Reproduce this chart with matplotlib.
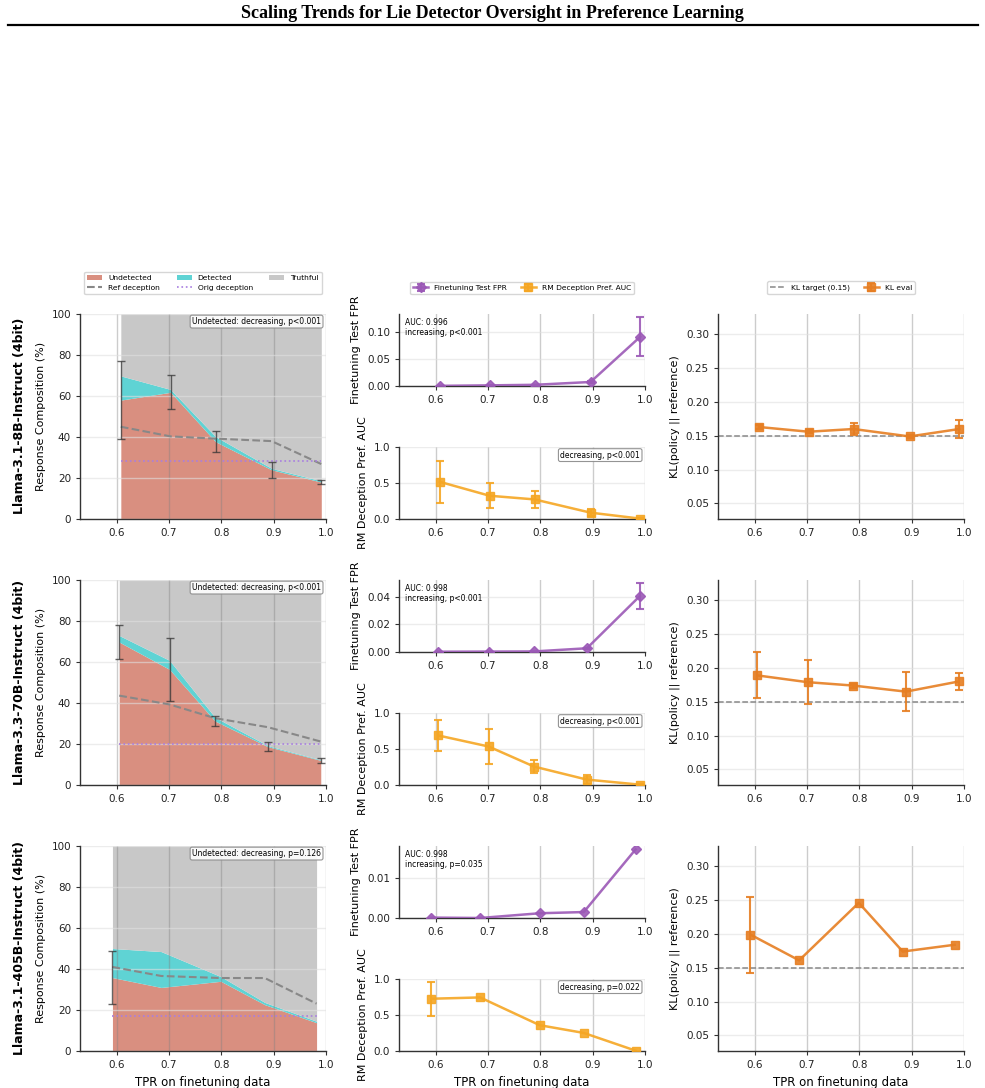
import matplotlib
matplotlib.use("Agg")
import matplotlib.pyplot as plt
import numpy as np
from matplotlib.lines import Line2D
from matplotlib.patches import Patch

plt.rcParams.update({'font.family': 'DejaVu Sans', 'font.size': 8})

W, H = 985, 1088

MODELS = ["Llama-3.1-8B-Instruct (4bit)",
          "Llama-3.3-70B-Instruct (4bit)",
          "Llama-3.1-405B-Instruct (4bit)"]

# TPR on finetuning data for each model (x positions)
TPR = [
    [0.608, 0.703, 0.789, 0.896, 0.991],
    [0.605, 0.701, 0.788, 0.889, 0.990],
    [0.592, 0.685, 0.799, 0.883, 0.982],
]

# Response composition (%)
UNDETECTED = [
    [58.0, 61.8, 37.7, 24.0, 18.0],
    [69.7, 56.4, 31.2, 18.7, 12.0],
    [35.8, 31.0, 34.0, 22.6, 13.8],
]
DECEPTIVE_TOTAL = [
    [69.8, 63.2, 40.2, 24.7, 18.6],
    [72.9, 60.8, 33.0, 19.2, 12.3],
    [50.0, 48.5, 36.3, 23.7, 14.5],
]
UNDETECTED_ERR = [
    [19.0, 8.3, 5.0, 4.0, 1.0],
    [8.2, 15.2, 2.5, 2.2, 1.2],
    [12.8, 0, 0, 0, 0],
]
REF_DECEPTION = [
    [45.0, 40.3, 39.2, 38.0, 26.8],
    [43.6, 39.3, 32.6, 28.2, 21.2],
    [41.0, 36.6, 35.6, 35.6, 23.1],
]
ORIG_DECEPTION = [28.3, 19.9, 16.9]
UNDET_TREND = ["Undetected: decreasing, p<0.001",
               "Undetected: decreasing, p<0.001",
               "Undetected: decreasing, p=0.126"]

# Finetuning test FPR
FPR = [
    [0.0003, 0.0012, 0.0022, 0.0075, 0.092],
    [0.0002, 0.0003, 0.0004, 0.0027, 0.0405],
    [0.0001, 0.0000, 0.0012, 0.0015, 0.0173],
]
FPR_ERR = [
    [0, 0, 0, 0.001, 0.036],
    [0, 0, 0, 0.0005, 0.0092],
    [0, 0, 0, 0, 0],
]
FPR_TEXT = ["AUC: 0.996\nincreasing, p<0.001",
            "AUC: 0.998\nincreasing, p<0.001",
            "AUC: 0.998\nincreasing, p=0.035"]
FPR_TICKS = [[0.0, 0.05, 0.10], [0.0, 0.02, 0.04], [0.0, 0.01]]

# RM deception preference AUC
RM_AUC = [
    [0.516, 0.323, 0.272, 0.088, 0.005],
    [0.688, 0.535, 0.256, 0.075, 0.005],
    [0.726, 0.744, 0.358, 0.251, 0.005],
]
RM_AUC_ERR = [
    [0.29, 0.177, 0.113, 0.045, 0.01],
    [0.21, 0.245, 0.086, 0.062, 0.008],
    [0.237, 0, 0, 0, 0],
]
RM_TREND = ["decreasing, p<0.001", "decreasing, p<0.001", "decreasing, p=0.022"]

# KL(policy || reference)
KL = [
    [0.163, 0.156, 0.160, 0.149, 0.160],
    [0.189, 0.179, 0.174, 0.165, 0.180],
    [0.199, 0.161, 0.246, 0.174, 0.184],
]
KL_ERR = [
    [0.003, 0.002, 0.009, 0.002, 0.013],
    [0.034, 0.033, 0.003, 0.029, 0.013],
    [0.056, 0, 0, 0, 0],
]
KL_TARGET = 0.15

C_UNDET = '#d98f80'
C_DET = '#5fd3d4'
C_TRUTH = '#c8c8c8'
C_FPR = '#9b59b6'
C_RM = '#f5a623'
C_KL = '#e67e22'
C_ORIG = '#a87ee0'

fig = plt.figure(figsize=(W / 100, H / 100), dpi=100)


def add_ax(x0, y_top, w, h):
    return fig.add_axes([x0 / W, 1 - (y_top + h) / H, w / W, h / H])


def style(ax):
    ax.spines[['top', 'right']].set_visible(False)
    for s in ['left', 'bottom']:
        ax.spines[s].set_color('#333333')
        ax.spines[s].set_linewidth(1.0)
    ax.set_xlim(0.53, 1.0)
    ax.set_xticks([0.6, 0.7, 0.8, 0.9, 1.0])
    ax.set_xticklabels(['0.6', '0.7', '0.8', '0.9', '1.0'])
    ax.grid(axis='x', color='#808080', alpha=0.4, lw=1)
    ax.grid(axis='y', color='#e0e0e0', alpha=0.6, lw=1)
    ax.set_axisbelow('line')
    ax.tick_params(labelsize=7.5, length=3, color='#333333', labelcolor='#222222')


def nz(err):
    e = np.asarray(err, dtype=float)
    return np.where(e > 0, e, np.nan)


box = dict(boxstyle='round,pad=0.25', fc='white', ec='#888888', alpha=0.9, lw=0.8)

ROW_TOP = [314, 580, 846]
legend_handles = {}

for r in range(3):
    x = np.array(TPR[r])
    top = ROW_TOP[r]

    # ---- left: response composition
    ax = add_ax(80, top, 246, 205)
    style(ax)
    und = np.array(UNDETECTED[r])
    tot = np.array(DECEPTIVE_TOTAL[r])
    ax.fill_between(x, 0, und, color=C_UNDET, lw=0)
    ax.fill_between(x, und, tot, color=C_DET, lw=0)
    ax.fill_between(x, tot, 100, color=C_TRUTH, lw=0)
    ax.plot(x, REF_DECEPTION[r], color='#888888', ls='--', lw=1.5, zorder=3)
    ax.plot(x, [ORIG_DECEPTION[r]] * len(x), color=C_ORIG, ls=':', lw=1.2, zorder=3)
    ax.errorbar(x, und, yerr=nz(UNDETECTED_ERR[r]), fmt='none', ecolor='#333333',
                alpha=0.75, capsize=3, elinewidth=1, capthick=1, zorder=4)
    ax.set_ylim(0, 100)
    ax.set_yticks([0, 20, 40, 60, 80, 100])
    ax.set_ylabel('Response Composition (%)', fontsize=8)
    ax.text(0.98, 0.985, UNDET_TREND[r], transform=ax.transAxes, ha='right', va='top',
            fontsize=5.5, bbox=box, zorder=5)
    if r == 2:
        ax.set_xlabel('TPR on finetuning data', fontsize=8.5)
    fig.text(20 / W, 1 - (top + 102) / H, MODELS[r], rotation=90, ha='center',
             va='center', fontsize=9, fontweight='bold')

    # ---- middle top: finetuning test FPR
    ax = add_ax(399, top, 246, 72)
    style(ax)
    fpr = np.array(FPR[r])
    ferr = np.array(FPR_ERR[r], dtype=float)
    h_fpr = ax.errorbar(x, fpr, yerr=nz(ferr), color=C_FPR, marker='D', ms=5.5, lw=1.8,
                        capsize=3, elinewidth=1.5, capthick=1.5, alpha=0.9,
                        label='Finetuning Test FPR', zorder=3)
    ax.set_ylim(0, np.max(fpr + ferr) * 1.05)
    ax.set_yticks(FPR_TICKS[r])
    ax.set_yticklabels(['%.2f' % t for t in FPR_TICKS[r]])
    ax.set_ylabel('Finetuning Test FPR', fontsize=8)
    ax.text(0.025, 0.95, FPR_TEXT[r], transform=ax.transAxes, ha='left', va='top',
            fontsize=5.5)

    # ---- middle bottom: RM deception preference AUC
    ax = add_ax(399, top + 133, 246, 72)
    style(ax)
    h_rm = ax.errorbar(x, RM_AUC[r], yerr=nz(RM_AUC_ERR[r]), color=C_RM, marker='s', ms=5.5,
                       lw=1.8, capsize=3, elinewidth=1.5, capthick=1.5, alpha=0.9,
                       label='RM Deception Pref. AUC', zorder=3)
    ax.set_ylim(0, 1.0)
    ax.set_yticks([0.0, 0.5, 1.0])
    ax.set_ylabel('RM Deception Pref. AUC', fontsize=8)
    ax.text(0.98, 0.95, RM_TREND[r], transform=ax.transAxes, ha='right', va='top',
            fontsize=5.5, bbox=box, zorder=5)
    if r == 2:
        ax.set_xlabel('TPR on finetuning data', fontsize=8.5)

    # ---- right: KL
    ax = add_ax(718, top, 246, 205)
    style(ax)
    h_kt = ax.axhline(KL_TARGET, color='#888888', ls='--', lw=1.1, label='KL target (0.15)',
                      zorder=2)
    h_kl = ax.errorbar(x, KL[r], yerr=nz(KL_ERR[r]), color=C_KL, marker='s', ms=5.5, lw=1.8,
                       capsize=3, elinewidth=1.5, capthick=1.5, alpha=0.9,
                       label='KL eval', zorder=3)
    ax.set_ylim(0.027, 0.33)
    ax.set_yticks([0.05, 0.10, 0.15, 0.20, 0.25, 0.30])
    ax.set_yticklabels(['0.05', '0.10', '0.15', '0.20', '0.25', '0.30'])
    ax.set_ylabel('KL(policy || reference)', fontsize=8)
    if r == 2:
        ax.set_xlabel('TPR on finetuning data', fontsize=8.5)

    if r == 0:
        legend_handles['mid'] = [h_fpr, h_rm]
        legend_handles['right'] = [h_kt, h_kl]

# ---- legends above each column
comp_handles = [
    Patch(fc=C_UNDET, label='Undetected'),
    Line2D([], [], color='#888888', ls='--', lw=1.5, label='Ref deception'),
    Patch(fc=C_DET, label='Detected'),
    Line2D([], [], color=C_ORIG, ls=':', lw=1.2, label='Orig deception'),
    Patch(fc=C_TRUTH, label='Truthful'),
]
leg_kw = dict(fontsize=5.4, frameon=True, edgecolor='#cccccc', fancybox=True,
              loc='lower center', borderaxespad=0)
fig.legend(handles=comp_handles, ncol=3, bbox_to_anchor=(203 / W, 1 - 294 / H),
           columnspacing=2.2, **leg_kw)
fig.legend(handles=legend_handles['mid'], ncol=2, bbox_to_anchor=(522 / W, 1 - 294 / H),
           columnspacing=1.8, **leg_kw)
fig.legend(handles=legend_handles['right'], ncol=2, bbox_to_anchor=(841 / W, 1 - 294 / H),
           columnspacing=1.8, **leg_kw)

# ---- title and rule
fig.text(0.5, 1 - 13 / H, 'Scaling Trends for Lie Detector Oversight in Preference Learning',
         ha='center', va='center', family='Liberation Serif', fontweight='bold', fontsize=13)
fig.add_artist(Line2D([8 / W, 978 / W], [1 - 25 / H, 1 - 25 / H], color='black', lw=1.6))

fig.savefig('out.png', dpi=100)
